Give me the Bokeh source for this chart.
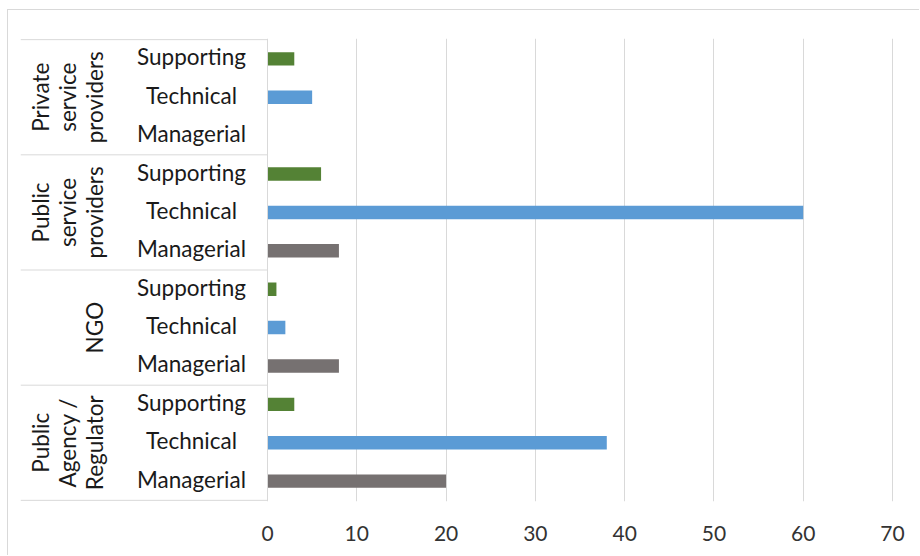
import math
from bokeh.plotting import figure
from bokeh.models import ColumnDataSource, Range1d, FixedTicker
from bokeh.core.properties import value
from bokeh.embed import file_html
from bokeh.resources import INLINE

# Staff counts by organisation type and role
groups = ["Private service providers", "Public service providers", "NGO", "Public Agency / Regulator"]
group_labels = [["Private", "service", "providers"],
                ["Public", "service", "providers"],
                ["NGO"],
                ["Public", "Agency /", "Regulator"]]
roles = ["Supporting", "Technical", "Managerial"]
supporting = [3, 6, 1, 3]
technical = [5, 60, 2, 38]
managerial = [0, 8, 8, 20]
x_ticks = [0, 10, 20, 30, 40, 50, 60, 70]

role_values = {"Supporting": supporting, "Technical": technical, "Managerial": managerial}
role_colors = {"Supporting": "#548235", "Technical": "#5B9BD5", "Managerial": "#767171"}

FONT = "Lato"
LABEL_SIZE = "22.5px"
n_rows = len(groups) * len(roles)

# Row positions: first group/role at the top, counted downward
rows = {"y": [], "right": [], "color": [], "role": []}
for gi, g in enumerate(groups):
    for ri, r in enumerate(roles):
        k = gi * len(roles) + ri
        rows["y"].append(n_rows - k - 0.5)
        rows["right"].append(role_values[r][gi])
        rows["color"].append(role_colors[r])
        rows["role"].append(r)
src = ColumnDataSource(rows)

# pixel layout of the label area, converted to data units
px_per_unit = 625 / 70.0
x_start = -247 / px_per_unit
x_end = x_start + 892 / px_per_unit
role_x = (191 - 267) / px_per_unit
group_last_line_x = (94 - 267) / px_per_unit
group_line_step = 27 / px_per_unit

# rotated group labels: one entry per line, each centred on its group
glines = {"x": [], "y": [], "text": []}
for gi, lines in enumerate(group_labels):
    yc = n_rows - (gi + 0.5) * len(roles)
    n = len(lines)
    for j, t in enumerate(lines):
        glines["x"].append(group_last_line_x - (n - 1 - j) * group_line_step)
        glines["y"].append(yc)
        glines["text"].append(t)
group_src = ColumnDataSource(glines)

p = figure(width=912, height=546, output_backend="svg", toolbar_location=None,
           x_range=Range1d(x_start, x_end), y_range=Range1d(-0.03, n_rows + 0.03),
           min_border_left=12, min_border_right=8, min_border_top=28, min_border_bottom=55,
           y_axis_location=None)
p.styles = {"margin-left": "7px", "margin-top": "9px",
            "border-left": "1px solid #d9d9d9", "border-top": "1px solid #d9d9d9"}
p.outline_line_color = None
p.background_fill_color = "white"
p.border_fill_color = "white"

# x axis and vertical gridlines
p.xaxis.ticker = FixedTicker(ticks=x_ticks)
p.xaxis.axis_line_color = None
p.xaxis.major_tick_line_color = None
p.xaxis.minor_tick_line_color = None
p.xaxis.major_tick_out = 0
p.xaxis.major_label_standoff = 24
p.xaxis.major_label_text_font = FONT
p.xaxis.major_label_text_font_size = "21px"
p.xaxis.major_label_text_color = "#333333"
p.xgrid.ticker = FixedTicker(ticks=x_ticks)
p.xgrid.grid_line_color = "#d9d9d9"
p.xgrid.grid_line_width = 1
p.ygrid.grid_line_color = None

# bars
p.hbar(y="y", left=0, right="right", height=0.35, color="color", line_color=None, source=src)

# category axis: vertical axis line and group separators
p.segment(x0=[0], y0=[0], x1=[0], y1=[n_rows], line_color="#d9d9d9", line_width=1)
sep_y = [gi * len(roles) for gi in range(len(groups) + 1)]
p.segment(x0=[x_start] * len(sep_y), y0=sep_y, x1=[0] * len(sep_y), y1=sep_y,
          line_color="#d9d9d9", line_width=1)

# role labels
p.text(x=role_x, y="y", text="role", source=src, text_align="center", text_baseline="middle",
       y_offset=-2, text_font=value(FONT), text_font_size=LABEL_SIZE, text_color="#1a1a1a")

# group labels, rotated
p.text(x="x", y="y", text="text", source=group_src, angle=math.pi / 2,
       text_align="center", text_baseline="alphabetic",
       text_font=value(FONT), text_font_size=LABEL_SIZE, text_color="#1a1a1a")

open("out.html", "w").write(file_html(p, INLINE))
